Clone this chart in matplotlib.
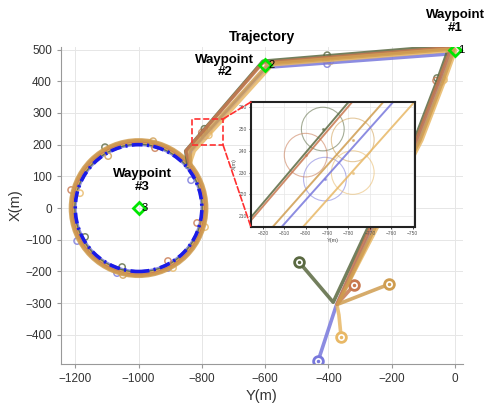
import matplotlib.pyplot as plt
from matplotlib.patches import Circle, Rectangle, ConnectionPatch

plt.rcParams['font.family'] = ['Liberation Sans', 'DejaVu Sans']

# waypoints (Y = east on the x axis, X = north on the y axis)
wp_y = [0, -600, -1000]
wp_x = [500, 450, 0]
wp_labels = ['1', '2', '3']
wp_texts = ['Waypoint\n#1', 'Waypoint\n#2', 'Waypoint\n#3']
loiter_center = (-1000, 0)
loiter_radius = 200

# agent paths: start -> gather -> WP1 -> WP2 -> loiter entry
green_y = [-493, -385, -275, -128, -55, -28, -18, -607, -851, -843]
green_x = [-170, -297, -63, 214, 404, 480, 512, 463, 180, 132]
orange_y = [-319, -373, -268, -122, -50, -22, -12, -608, -850, -838]
orange_x = [-243, -303, -63, 214, 404, 478, 506, 458, 180, 136]
tan_y = [-208, -370, -254, -111, -38, -12, -3, -590, -838, -835]
tan_x = [-240, -303, -63, 214, 404, 476, 502, 455, 180, 138]
yellow_y = [-360, -367, -373, -247, -105, -32, -6, 2, -577, -824, -840]
yellow_x = [-407, -337, -306, -63, 214, 404, 476, 498, 452, 180, 134]
blue_y = [-433, -376, -261, -116, -44, -17, -8, -594, -834, -846]
blue_x = [-483, -309, -63, 214, 404, 476, 487, 444, 180, 129]

# loiter radius of each agent around waypoint #3
green_r = 205
orange_r = 212
tan_r = 215
yellow_r = 209
blue_r = 201

# sampled positions (drawn as 10 m circles)
green_mk_y = [-57, -404, -792, -1106, -1169, -1052]
green_mk_x = [410, 482, 250, 192, -91, -186]
orange_mk_y = [-60, -408, -800, -1213, -948, -907, -815]
orange_mk_x = [402, 467, 238, 57, 189, -167, -47]
tan_mk_y = [-40, -398, -778, -1096, -954, -1049]
tan_mk_x = [410, 470, 245, 164, 211, -211]
yellow_mk_y = [-35, -394, -778, -891, -790, -1185]
yellow_mk_x = [404, 463, 230, -189, -60, 47]
blue_mk_y = [-45, -404, -791, -834, -1194, -1068, -907]
blue_mk_x = [398, 454, 227, 88, -104, -205, -189]
mk_radius = 10

agents = [
    ('#7878dc', blue_y, blue_x, blue_r, blue_mk_y, blue_mk_x),
    ('#5a6941', green_y, green_x, green_r, green_mk_y, green_mk_x),
    ('#e8b866', yellow_y, yellow_x, yellow_r, yellow_mk_y, yellow_mk_x),
    ('#c87850', orange_y, orange_x, orange_r, orange_mk_y, orange_mk_x),
    ('#cf9d50', tan_y, tan_x, tan_r, tan_mk_y, tan_mk_x),
]


def draw_agents(axis, lw, mk_lw, mk_alpha, dot_ms, starts=True):
    for color, py, px, r, my, mx in agents:
        axis.plot(py, px, color=color, lw=lw, alpha=0.85, solid_joinstyle='round')
        axis.add_patch(Circle(loiter_center, r, fill=False, ec=color, lw=lw, alpha=0.85))
        for y, x in zip(my, mx):
            axis.add_patch(Circle((y, x), mk_radius, fill=False, ec=color,
                                  lw=mk_lw, alpha=mk_alpha))
        axis.plot(my, mx, '.', color=color, ms=dot_ms, alpha=mk_alpha)
        if starts:
            axis.plot(py[0], px[0], 'o', mfc='white', mec=color, ms=7, mew=2)
            axis.plot(py[0], px[0], '.', color=color, ms=3)


fig = plt.figure(figsize=(4.92, 4.05), dpi=100)
ax = fig.add_axes([0.124, 0.101, 0.817, 0.783])

draw_agents(ax, 2.6, 1.1, 0.8, 0)
ax.add_patch(Circle(loiter_center, loiter_radius, fill=False, ec='#1a1ae6', lw=2.6,
                    ls=(0, (3, 1.2, 0.6, 1.2)), zorder=5))

ax.plot(wp_y, wp_x, 'D', mfc='none', mec='#00e600', ms=6, mew=2, zorder=6)
for y, x, lbl in zip(wp_y, wp_x, wp_labels):
    ax.annotate(lbl, (y, x), xytext=(2.5, 0), textcoords='offset points',
                va='center', ha='left', fontsize=8, zorder=7)

ax.text(0, 587, wp_texts[0], ha='center', va='center', fontsize=9.5,
        fontweight='bold', linespacing=1.1, clip_on=False)
ax.text(-727, 448, wp_texts[1], ha='center', va='center', fontsize=9.5,
        fontweight='bold', linespacing=1.1)
ax.text(-989, 88, wp_texts[2], ha='center', va='center', fontsize=9.5,
        fontweight='bold', linespacing=1.1)

ax.set_xlim(-1245, 25)
ax.set_ylim(-492, 508)
ax.set_xticks(range(-1200, 1, 200))
ax.set_yticks(range(-400, 501, 100))
ax.grid(True, color='#e6e6e6', lw=0.7)
ax.set_axisbelow(True)
for s in ['top', 'right']:
    ax.spines[s].set_visible(False)
for s in ['left', 'bottom']:
    ax.spines[s].set_color('#999999')
ax.tick_params(direction='out', length=3, color='#999999', labelcolor='#333333',
               labelsize=8.5)
ax.set_xlabel('Y(m)', fontsize=10.5, color='#333333', labelpad=3)
ax.set_ylabel('X(m)', fontsize=10.5, color='#333333', labelpad=2)
ax.set_title('Trajectory', fontsize=10, fontweight='bold', pad=4)

# zoom box
ax.add_patch(Rectangle((-831, 199), 98, 82, fill=False, ec='#ff3030', lw=1.2,
                       ls='--', zorder=8))

ins = fig.add_axes([0.510, 0.4395, 0.333, 0.3086])
draw_agents(ins, 1.4, 0.8, 0.55, 2.5, starts=False)
ins.set_xlim(-825.6, -749)
ins.set_ylim(205, 262.4)
ins.set_xticks(range(-820, -749, 10))
ins.set_yticks(range(210, 261, 10))
ins.grid(True, color='#e6e6e6', lw=0.5)
ins.set_axisbelow(True)
for s in ins.spines.values():
    s.set_color('#222222')
    s.set_linewidth(1.5)
ins.tick_params(length=1.5, width=0.5, labelsize=3.5, labelcolor='#555555', pad=1.5)
ins.set_xlabel('Y(m)', fontsize=4, color='#555555', labelpad=1)
ins.set_ylabel('X(m)', fontsize=4, color='#555555', labelpad=1)

for yb, xb, fx, fy in [(-733, 281, 0, 1), (-733, 199, 0, 0)]:
    con = ConnectionPatch(xyA=(yb, xb), coordsA=ax.transData, xyB=(fx, fy),
                          coordsB=ins.transAxes, color='#ff3030', lw=1.2, ls='--')
    fig.add_artist(con)

fig.savefig('out.png', dpi=100)
